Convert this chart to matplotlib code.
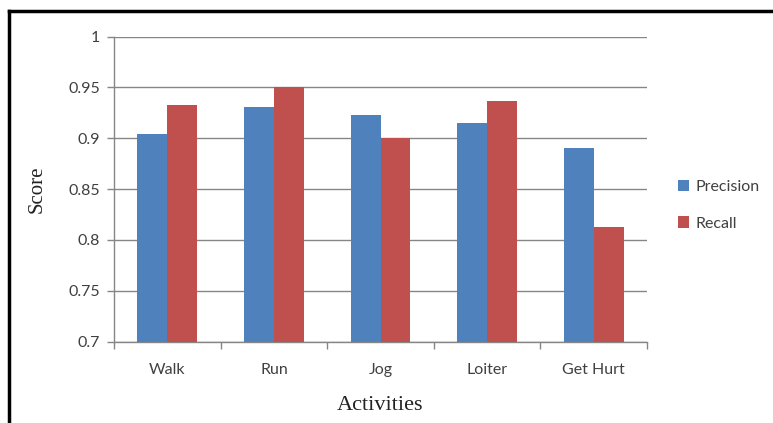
import numpy as np
import matplotlib
matplotlib.use("Agg")
import matplotlib.pyplot as plt
from matplotlib.lines import Line2D

activities = ["Walk", "Run", "Jog", "Loiter", "Get Hurt"]
precision = [0.904, 0.931, 0.923, 0.915, 0.890]
recall = [0.933, 0.950, 0.900, 0.937, 0.813]
y_ticks = [0.7, 0.75, 0.8, 0.85, 0.9, 0.95, 1.0]
y_tick_labels = ["0.7", "0.75", "0.8", "0.85", "0.9", "0.95", "1"]

BLUE = "#4F81BD"
RED = "#C0504D"
GRID = "#868686"
TXT = "#404040"

fig = plt.figure(figsize=(7.73, 4.23), dpi=100)
ax = fig.add_axes([0.1475, 0.1922, 0.6895, 0.7215])

x = np.arange(len(activities))
w = 0.28
ax.bar(x - w / 2, precision, w, color=BLUE, label="Precision", zorder=3)
ax.bar(x + w / 2, recall, w, color=RED, label="Recall", zorder=3)

ax.set_xlim(-0.5, len(activities) - 0.5)
ax.set_ylim(0.7, 1.0)
ax.set_yticks(y_ticks)
ax.set_yticklabels(y_tick_labels, family="Lato", fontsize=11.5, color=TXT)
ax.yaxis.grid(True, color=GRID, linewidth=1.0, zorder=0)

# category labels in the middle, ticks on the boundaries
ax.set_xticks(x)
ax.set_xticklabels(activities, family="Lato", fontsize=11.5, color=TXT)
ax.tick_params(axis="x", length=0, pad=15)
ax.set_xticks(np.arange(-0.5, len(activities)), minor=True)
ax.tick_params(axis="x", which="minor", length=5, color=GRID, width=1)
ax.tick_params(axis="y", length=5, color=GRID, width=1, pad=5)

for s in ["top", "right"]:
    ax.spines[s].set_visible(False)
for s in ["left", "bottom"]:
    ax.spines[s].set_color(GRID)
    ax.spines[s].set_linewidth(1.0)

ax.set_ylabel("Score", family="Liberation Serif", fontsize=15, color="#222222", labelpad=16)
ax.set_xlabel("Activities", family="Liberation Serif", fontsize=16, color="#222222", labelpad=14)

leg = fig.legend(loc="center left", bbox_to_anchor=(0.858, 0.515), frameon=False,
                 prop={"family": "Lato", "size": 11.5}, handlelength=0.7, handleheight=0.7,
                 handletextpad=0.4, labelspacing=1.4)
for t in leg.get_texts():
    t.set_color(TXT)

# outer frame (top and left edges only visible)
fig.add_artist(Line2D([9 / 773, 1.0], [1 - 11 / 423] * 2, color="black", linewidth=2.5,
                      transform=fig.transFigure))
fig.add_artist(Line2D([9 / 773] * 2, [0.0, 1 - 11 / 423], color="black", linewidth=2.5,
                      transform=fig.transFigure))

fig.savefig("out.png", dpi=100)
